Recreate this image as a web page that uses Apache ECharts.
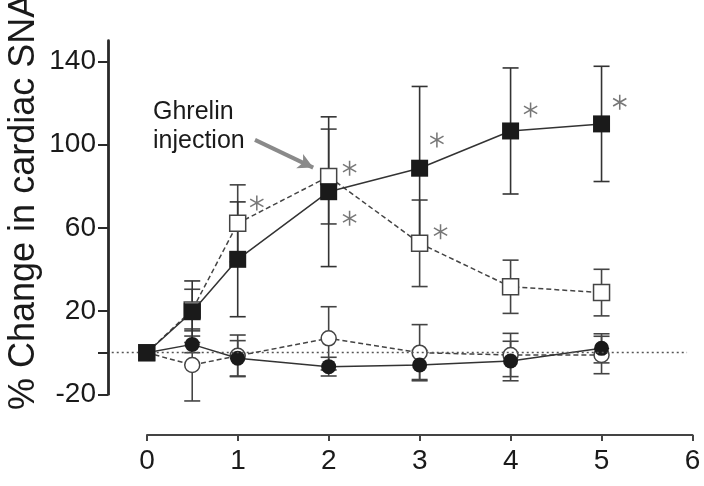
<!DOCTYPE html>
<html>
<head>
<meta charset="utf-8">
<script src="https://cdn.jsdelivr.net/npm/echarts@6/dist/echarts.min.js"></script>
<style>
html,body{margin:0;padding:0;background:#fff;}
#chart{width:704px;height:486px;}
</style>
</head>
<body>
<div id="chart"></div>
<script>
// ---- data ----
const timePoints = [0, 0.5, 1, 2, 3, 4, 5];
const filledSquare    = [0, 19.7, 44.9, 77.4, 88.7, 106.6, 110.0];
const filledSquareErr = [0, 14.8, 27.6, 36.0, 39.3, 30.3, 27.7];
const openSquare      = [0, 20.5, 62.2, 84.7, 52.6, 31.7, 28.9];
const openSquareErr   = [0, 10.0, 18.5, 22.8, 20.8, 12.8, 11.2];
const filledCircle    = [0, 4.0, -2.7, -6.7, -5.9, -4.0, 2.1];
const filledCircleErr = [0, 4.0, 8.5, 4.5, 7.0, 9.5, 7.0];
const openCircle      = [0, -5.9, -1.5, 6.9, 0.0, -1.1, -1.1];
const openCircleErr   = [0, 17.3, 10.0, 15.2, 13.5, 10.4, 9.0];
const asteriskX = [1.21, 2.23, 2.23, 3.19, 3.23, 4.22, 5.20];
const asteriskY = [72.0, 88.7, 64.6, 102.3, 58.2, 116.7, 120.4];
const xTicks = [0, 1, 2, 3, 4, 5, 6];
const yTickValues = [-20, 0, 20, 60, 100, 140];
const yLabelValues = [-20, 20, 60, 100, 140];
const arrowFrom = [1.19, 102.3];
const arrowTo = [1.83, 89.0];
const zeroLineFrom = -0.385;
const zeroLineTo = 5.94;
const annotationText = 'Ghrelin\ninjection';
const yTitle = '% Change in cardiac SNA';

const FONT = '"Liberation Sans", Arial, sans-serif';

function pairs(ys) { return timePoints.map((x, i) => [x, ys[i]]); }
function errData(ys, es) { return timePoints.map((x, i) => [x, ys[i], es[i]]); }

function errorSeries(ys, es, color) {
  return {
    type: 'custom',
    xAxisIndex: 0, yAxisIndex: 0,
    z: 1,
    silent: true,
    encode: { x: 0, y: 1 },
    data: errData(ys, es),
    renderItem: function (params, api) {
      const x = api.value(0), y = api.value(1), e = api.value(2);
      if (!e) return null;
      const t = api.coord([x, y + e]);
      const b = api.coord([x, y - e]);
      const hw = 8;
      const st = { stroke: color, lineWidth: 1.6 };
      return {
        type: 'group',
        children: [
          { type: 'line', shape: { x1: t[0], y1: t[1], x2: b[0], y2: b[1] }, style: st },
          { type: 'line', shape: { x1: t[0] - hw, y1: t[1], x2: t[0] + hw, y2: t[1] }, style: st },
          { type: 'line', shape: { x1: b[0] - hw, y1: b[1], x2: b[0] + hw, y2: b[1] }, style: st }
        ]
      };
    }
  };
}

const asteriskPath = 'path://M-0.1,-1L0.1,-1L0.1,1L-0.1,1Z' +
  'M0.816,-0.587L0.916,-0.413L-0.816,0.587L-0.916,0.413Z' +
  'M-0.916,-0.413L-0.816,-0.587L0.916,0.413L0.816,0.587Z';

const chart = echarts.init(document.getElementById('chart'), null, { renderer: 'canvas' });
chart.setOption({
  animation: false,
  backgroundColor: '#ffffff',
  grid: [
    { left: 108, right: 11.5, top: 40.7, bottom: 91.7 },
    { left: 147, right: 11.5, top: 40.7, bottom: 51 }
  ],
  xAxis: [
    { gridIndex: 0, type: 'value', min: -0.426, max: 6, show: false },
    {
      gridIndex: 1, type: 'value', min: 0, max: 6, interval: 1,
      axisLine: { show: true, onZero: false, lineStyle: { color: '#444', width: 2 } },
      axisTick: { show: true, length: 6, lineStyle: { color: '#444', width: 2 } },
      axisLabel: { fontSize: 28, fontFamily: FONT, color: '#1a1a1a', margin: 12,
        customValues: xTicks },
      splitLine: { show: false }
    }
  ],
  yAxis: [
    {
      gridIndex: 0, type: 'value', min: -20, max: 150,
      axisLine: { show: true, onZero: false, lineStyle: { color: '#2a2a2a', width: 2.8 } },
      axisTick: { show: true, length: 10, customValues: yTickValues,
        lineStyle: { color: '#2a2a2a', width: 2 } },
      axisLabel: { fontSize: 28, fontFamily: FONT, color: '#1a1a1a', margin: 12,
        customValues: yLabelValues },
      splitLine: { show: false }
    },
    { gridIndex: 1, type: 'value', min: 0, max: 1, show: false }
  ],
  graphic: [
    {
      type: 'text', left: 153, top: 98,
      style: { text: annotationText, font: '25px ' + FONT, lineHeight: 28.5, fill: '#1a1a1a' }
    },
    {
      type: 'text', x: 24, y: 410, rotation: Math.PI / 2,
      style: { text: yTitle, font: '36px ' + FONT, fill: '#1a1a1a',
        align: 'left', verticalAlign: 'middle' }
    }
  ],
  series: [
    errorSeries(openCircle, openCircleErr, '#444'),
    errorSeries(filledCircle, filledCircleErr, '#444'),
    errorSeries(openSquare, openSquareErr, '#444'),
    errorSeries(filledSquare, filledSquareErr, '#333'),
    {
      type: 'line', xAxisIndex: 0, yAxisIndex: 0, z: 2,
      data: pairs(openCircle),
      symbol: 'circle', symbolSize: 15,
      itemStyle: { color: '#ffffff', borderColor: '#444', borderWidth: 1.5 },
      lineStyle: { color: '#444', width: 1.5, type: [5, 3] },
      markLine: {
        silent: true, symbol: ['none', 'none'], label: { show: false },
        lineStyle: { color: '#555', width: 1.3, type: [2, 3] },
        data: [[{ coord: [zeroLineFrom, 0] }, { coord: [zeroLineTo, 0] }]]
      }
    },
    {
      type: 'line', xAxisIndex: 0, yAxisIndex: 0, z: 3,
      data: pairs(filledCircle),
      symbol: 'circle', symbolSize: 15,
      itemStyle: { color: '#1a1a1a', borderColor: '#1a1a1a', borderWidth: 0 },
      lineStyle: { color: '#333', width: 1.5, type: 'solid' }
    },
    {
      type: 'line', xAxisIndex: 0, yAxisIndex: 0, z: 4,
      data: pairs(openSquare),
      symbol: 'rect', symbolSize: 16,
      itemStyle: { color: '#ffffff', borderColor: '#444', borderWidth: 1.5 },
      lineStyle: { color: '#444', width: 1.5, type: [5, 3] }
    },
    {
      type: 'line', xAxisIndex: 0, yAxisIndex: 0, z: 5,
      data: pairs(filledSquare),
      symbol: 'rect', symbolSize: 17,
      itemStyle: { color: '#1a1a1a', borderColor: '#1a1a1a', borderWidth: 0 },
      lineStyle: { color: '#333', width: 1.5, type: 'solid' }
    },
    {
      type: 'scatter', xAxisIndex: 0, yAxisIndex: 0, z: 6,
      data: asteriskX.map((x, i) => [x, asteriskY[i]]),
      symbol: asteriskPath, symbolSize: [14, 15],
      itemStyle: { color: '#555555' },
      silent: true,
      markLine: {
        silent: true, symbol: ['none', 'arrow'], symbolSize: [12, 15],
        label: { show: false },
        lineStyle: { color: '#8a8a8a', width: 4, type: 'solid' },
        itemStyle: { color: '#8a8a8a' },
        data: [[{ coord: arrowFrom }, { coord: arrowTo }]]
      }
    }
  ]
});
</script>
</body>
</html>
